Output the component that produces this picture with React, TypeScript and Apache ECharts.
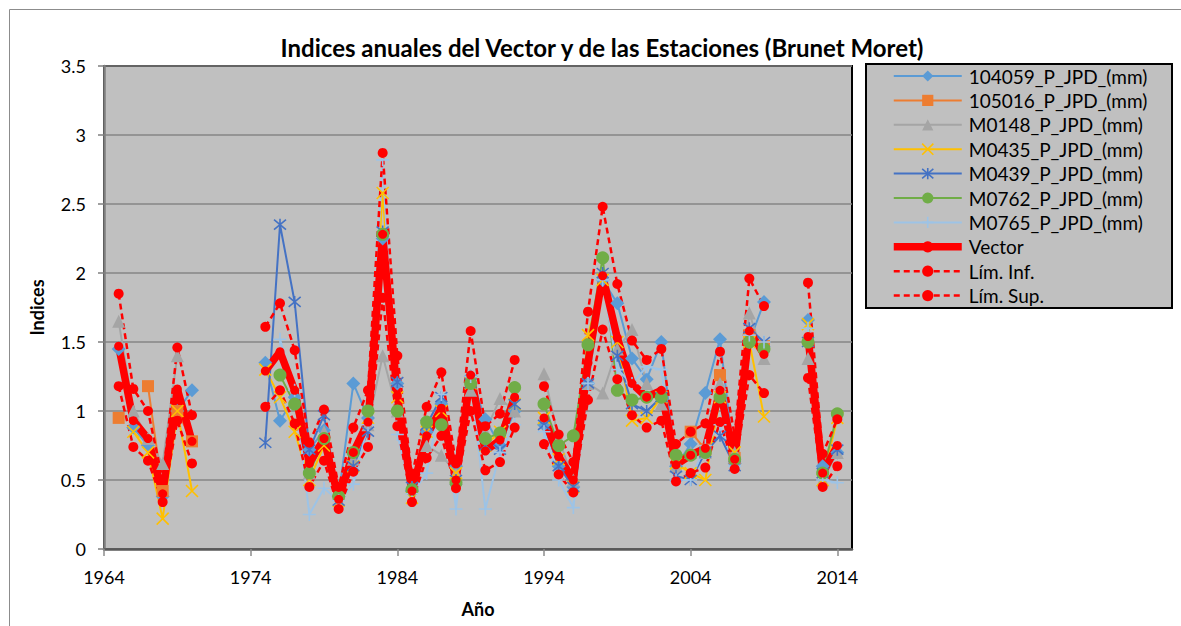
import React, { useEffect, useRef } from "react";
import * as echarts from "echarts";

const _ = null;

const years = [
  "1964", "1965", "1966", "1967", "1968", "1969", "1970", "1971", "1972", "1973",
  "1974", "1975", "1976", "1977", "1978", "1979", "1980", "1981", "1982", "1983",
  "1984", "1985", "1986", "1987", "1988", "1989", "1990", "1991", "1992", "1993",
  "1994", "1995", "1996", "1997", "1998", "1999", "2000", "2001", "2002", "2003",
  "2004", "2005", "2006", "2007", "2008", "2009", "2010", "2011", "2012", "2013",
  "2014", "2015",
];

// rows: 1964 | 1965-1970 | 1971-1974 | 1975-1992 | 1993 | 1994-2009 | 2010-2011 | 2012-2014 | 2015
const s104059 = [
  _,
  1.45, 0.88, 0.75, 0.38, 1.0, 1.15,
  _, _, _, _,
  1.35, 0.93, 1.1, 0.72, 0.86, 0.38, 1.2, 0.95, 2.25, 1.2, 0.42, 0.85, 1.05, 0.6, 1.25, 0.94, 0.75, 1.0,
  _,
  0.9, 0.6, 0.45, 1.2, 1.95, 1.78, 1.38, 1.23, 1.5, 0.6, 0.76, 1.13, 1.52, 0.62, 1.5, 1.79,
  _, _,
  1.66, 0.6, 0.7,
  _,
];
const s105016 = [
  _,
  0.95, _, 1.18, 0.42, 1.0, 0.78,
  _, _, _, _,
  _, _, _, _, _, _, _, _, _, _, _, _, _, _, _, _, _, _,
  _,
  _, _, _, _, _, _, _, _, _, _, 0.85, 0.72, 1.26, 0.66, 1.55, 1.47,
  _, _,
  _, _, _,
  _,
];
const sM0148 = [
  _,
  1.65, 1.0, 0.8, 0.62, 1.4, _,
  _, _, _, _,
  _, _, _, 0.55, 0.85, 0.4, 0.65, 0.9, 1.4, 1.0, 0.45, 0.75, 0.68, 0.55, 1.15, 0.85, 1.09, 1.0,
  _,
  1.27, 0.8, 0.5, 1.2, 1.13, 1.45, 1.59, 1.2, 1.05, 0.6, 0.7, 0.7, 1.2, 0.7, 1.71, 1.38,
  _, _,
  1.38, 0.5, 0.7,
  _,
];
const sM0435 = [
  _,
  _, 0.85, 0.7, 0.22, 1.0, 0.42,
  _, _, _, _,
  1.3, 1.1, 0.85, 0.5, 0.75, 0.35, 0.6, 0.95, 2.58, 1.1, 0.37, 0.85, 1.0, 0.55, 1.2, 0.75, 0.85, 1.05,
  _,
  0.95, 0.65, 0.45, 1.55, 1.95, 1.5, 0.93, 0.95, 1.1, 0.62, 0.55, 0.5, 1.1, 0.7, 1.5, 0.96,
  _, _,
  1.63, 0.5, 0.95,
  _,
];
const sM0439 = [
  _,
  _, _, _, _, _, _,
  _, _, _, _,
  0.77, 2.35, 1.79, 0.72, 0.97, 0.35, 0.6, 0.85, 2.3, 1.21, 0.45, 0.9, 1.1, 0.5, 1.2, 0.75, 0.72, 1.05,
  _,
  0.9, 0.6, 0.45, 1.2, 2.0, 1.4, 1.05, 1.0, 1.1, 0.53, 0.5, 0.7, 0.82, 0.6, 1.6, 1.5,
  _, _,
  1.5, 0.55, 0.72,
  _,
];
const sM0762 = [
  _,
  _, _, _, _, _, _,
  _, _, _, _,
  _, 1.26, 1.05, 0.55, 0.8, 0.38, 0.7, 1.0, 2.28, 1.0, 0.43, 0.92, 0.9, 0.48, 1.2, 0.8, 0.84, 1.17,
  _,
  1.05, 0.75, 0.82, 1.48, 2.11, 1.15, 1.08, 1.1, 1.1, 0.68, 0.68, 0.7, 1.1, 0.65, 1.5, 1.45,
  _, _,
  1.5, 0.55, 0.98,
  _,
];
const sM0765 = [
  _,
  _, _, _, _, _, _,
  _, _, _, _,
  _, 1.52, 1.15, 0.25, 0.44, 0.35, 0.47, 0.9, 2.82, 0.83, 0.4, 0.55, 1.12, 0.29, 1.25, 0.29, 0.7, 0.9,
  _,
  0.85, 0.5, 0.3, 1.2, 1.95, 1.3, 1.2, 1.32, 1.3, 0.5, 0.5, 0.75, 0.9, 0.6, 1.55, 1.5,
  _, _,
  1.6, 0.5, 0.48,
  _,
];
const vector = [
  _,
  1.47, 0.93, 0.8, 0.4, 1.16, 0.78,
  _, _, _, _,
  1.29, 1.43, 1.15, 0.62, 0.8, 0.36, 0.7, 0.92, 2.28, 1.11, 0.42, 0.82, 1.02, 0.5, 1.26, 0.71, 0.79, 1.1,
  _,
  0.95, 0.67, 0.5, 1.35, 1.98, 1.53, 1.2, 1.1, 1.15, 0.61, 0.68, 0.73, 1.15, 0.65, 1.58, 1.41,
  _, _,
  1.54, 0.55, 0.75,
  _,
];
const limInf = [
  _,
  1.18, 0.74, 0.64, 0.34, 0.93, 0.62,
  _, _, _, _,
  1.03, 1.15, 0.91, 0.45, 0.64, 0.29, 0.56, 0.74, 1.82, 0.89, 0.34, 0.66, 0.82, 0.44, 1.0, 0.57, 0.63, 0.88,
  _,
  0.76, 0.54, 0.41, 1.08, 1.59, 1.23, 0.97, 0.88, 0.93, 0.49, 0.55, 0.59, 0.92, 0.58, 1.26, 1.13,
  _, _,
  1.24, 0.45, 0.6,
  _,
];
const limSup = [
  _,
  1.85, 1.16, 1.0, 0.5, 1.46, 0.97,
  _, _, _, _,
  1.61, 1.78, 1.44, 0.77, 1.01, 0.45, 0.88, 1.15, 2.87, 1.4, 0.53, 1.03, 1.28, 0.62, 1.58, 0.89, 0.98, 1.37,
  _,
  1.18, 0.83, 0.63, 1.72, 2.48, 1.92, 1.51, 1.37, 1.45, 0.76, 0.85, 0.91, 1.43, 0.82, 1.96, 1.76,
  _, _,
  1.93, 0.69, 0.94,
  _,
];

const FONT = "Lato";

const X_PATH = "path://M0,0L10,10M10,0L0,10";
const STAR_PATH = "path://M0,0L10,10M10,0L0,10M5,-1L5,11";
const PLUS_PATH = "path://M5,0L5,10M0,5L10,5";

function station(name: string, data: (number | null)[], color: string, symbol: string, size: number, stroked: boolean) {
  return {
    type: "line",
    name,
    data,
    symbol,
    symbolSize: size,
    showAllSymbol: true,
    connectNulls: false,
    lineStyle: { color, width: 2 },
    itemStyle: stroked
      ? { color, borderColor: color, borderWidth: 1.6 }
      : { color, borderWidth: 0 },
    emphasis: { disabled: true },
  };
}

export default function App() {
  const ref = useRef<HTMLDivElement>(null);
  useEffect(() => {
    document.body.style.margin = "0";
    const chart = echarts.init(ref.current!, null, { renderer: "svg" });
    const series: any[] = [
      station("104059_P_JPD_(mm)", s104059, "#5B9BD5", "diamond", 14, false),
      station("105016_P_JPD_(mm)", s105016, "#ED7D31", "rect", 12, false),
      station("M0148_P_JPD_(mm)", sM0148, "#A5A5A5", "triangle", 13, false),
      station("M0435_P_JPD_(mm)", sM0435, "#FFC000", X_PATH, 12, true),
      station("M0439_P_JPD_(mm)", sM0439, "#4472C4", STAR_PATH, 12, true),
      station("M0762_P_JPD_(mm)", sM0762, "#70AD47", "circle", 13, false),
      station("M0765_P_JPD_(mm)", sM0765, "#9DC3E6", PLUS_PATH, 13, true),
      {
        type: "line",
        name: "Vector",
        data: vector,
        symbol: "circle",
        symbolSize: 9,
        showAllSymbol: true,
        connectNulls: false,
        lineStyle: { color: "#FF0000", width: 7.5 },
        itemStyle: { color: "#FF0000", borderWidth: 0 },
        emphasis: { disabled: true },
      },
      {
        type: "line",
        name: "Lím. Inf.",
        data: limInf,
        symbol: "circle",
        symbolSize: 10,
        showAllSymbol: true,
        connectNulls: false,
        lineStyle: { color: "#FF0000", width: 2.5, type: [6, 4] },
        itemStyle: { color: "#FF0000", borderWidth: 0 },
        emphasis: { disabled: true },
      },
      {
        type: "line",
        name: "Lím. Sup.",
        data: limSup,
        symbol: "circle",
        symbolSize: 10,
        showAllSymbol: true,
        connectNulls: false,
        lineStyle: { color: "#FF0000", width: 2.5, type: [6, 4] },
        itemStyle: { color: "#FF0000", borderWidth: 0 },
        emphasis: { disabled: true },
      },
    ];
    chart.setOption({
      animation: false,
      backgroundColor: "#FFFFFF",
      textStyle: { fontFamily: FONT },
      title: {
        text: "Indices anuales del Vector y de las Estaciones (Brunet Moret)",
        left: 597,
        top: 30,
        textAlign: "center",
        textStyle: { fontFamily: FONT, fontSize: 24, fontWeight: "bold", color: "#000" },
      },
      graphic: [
        {
          type: "rect",
          shape: { x: 9.5, y: 9.5, width: 1200, height: 700 },
          style: { fill: "none", stroke: "#8C8C8C", lineWidth: 1 },
          z: -10,
          silent: true,
        },
        {
          type: "rect",
          shape: { x: 866, y: 64, width: 306, height: 244 },
          style: { fill: "#C0C0C0", stroke: "#000000", lineWidth: 2 },
          z: -5,
          silent: true,
        },
      ],
      legend: {
        orient: "vertical",
        left: 866,
        top: 64,
        padding: [2, 10, 5, 24],
        itemWidth: 68,
        itemHeight: 14,
        itemGap: 4.4,
        textStyle: { fontFamily: FONT, fontSize: 19, lineHeight: 20, color: "#000", padding: [0, 0, 0, 2] },
        lineStyle: { width: "inherit" },
        itemStyle: { borderWidth: "inherit" },
        selectedMode: false,
      },
      grid: {
        left: 104,
        top: 66,
        width: 748,
        height: 483,
        show: true,
        backgroundColor: "#C0C0C0",
        borderColor: "#000000",
        borderWidth: 2,
        containLabel: false,
      },
      xAxis: {
        type: "category",
        data: years,
        boundaryGap: false,
        name: "Año",
        nameLocation: "middle",
        nameGap: 51,
        nameTextStyle: { fontFamily: FONT, fontSize: 18, fontWeight: "bold", color: "#000" },
        axisLine: { lineStyle: { color: "#595959", width: 2.5 } },
        axisTick: { interval: 9, length: 7, lineStyle: { color: "#8C8C8C", width: 1.5 } },
        axisLabel: { interval: 9, fontFamily: FONT, fontSize: 18, color: "#000", margin: 19 },
        splitLine: { show: false },
      },
      yAxis: {
        type: "value",
        min: 0,
        max: 3.5,
        interval: 0.5,
        name: "Indices",
        nameLocation: "middle",
        nameRotate: 90,
        nameGap: 58,
        nameTextStyle: { fontFamily: FONT, fontSize: 18, fontWeight: "bold", color: "#000" },
        axisLine: { show: true, lineStyle: { color: "#7F7F7F", width: 2.5 } },
        axisTick: { show: true, length: 6, lineStyle: { color: "#7F7F7F", width: 1.5 } },
        axisLabel: { fontFamily: FONT, fontSize: 18, color: "#000", margin: 18 },
        splitLine: { lineStyle: { color: "#868686", width: 1.5 } },
      },
      series,
    });
    return () => chart.dispose();
  }, []);
  return <div ref={ref} style={{ width: 1181, height: 626 }} />;
}
